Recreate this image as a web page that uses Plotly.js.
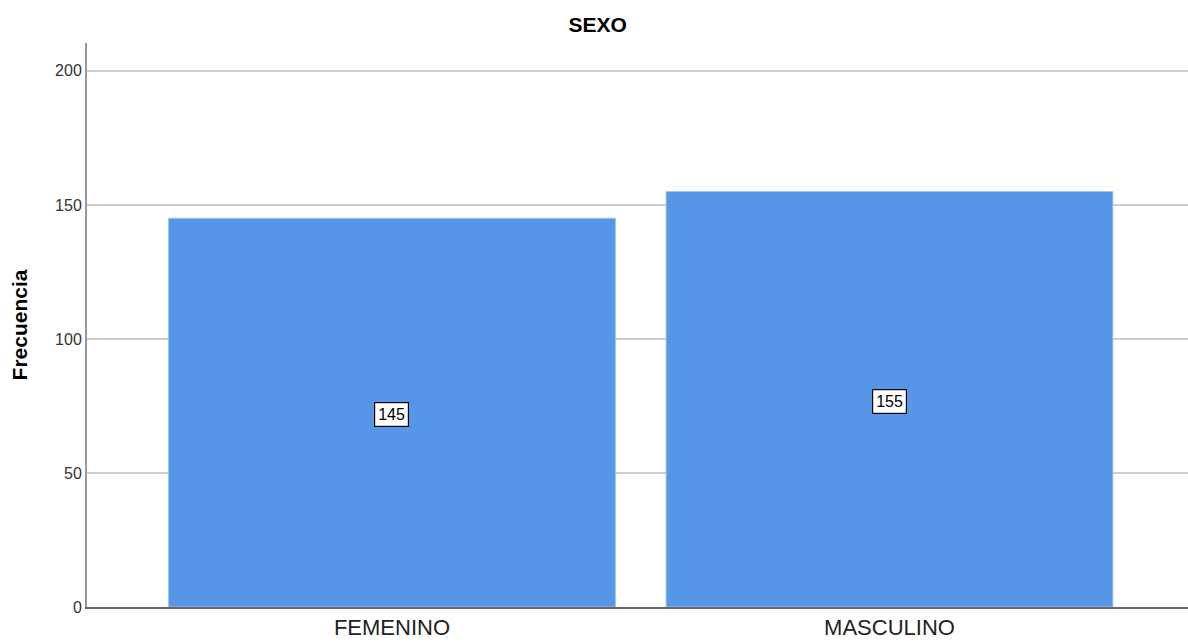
<!DOCTYPE html>
<html><head><meta charset="utf-8">
<script src="https://cdn.plot.ly/plotly-3.0.1.min.js"></script>
<style>html,body{margin:0;padding:0;background:#fff}#c{width:1188px;height:642px}</style>
</head><body><div id="c"></div>
<script>
const categories = ["FEMENINO", "MASCULINO"];
const counts = [145, 155];
const yTicks = [0, 50, 100, 150, 200];

const FONT = "Liberation Sans, Arial, sans-serif";
const trace = {
  type: "bar", x: categories, y: counts, width: 0.898,
  marker: {color: "#5596E6", line: {color: "#9CC3F2", width: 1}},
  hoverinfo: "x+y"
};
const annotations = categories.map((c, i) => ({
  x: c, y: counts[i] / 2, text: String(counts[i]), showarrow: false,
  bgcolor: "#ffffff", bordercolor: "#000000", borderwidth: 1.2, borderpad: 3,
  yshift: -2,
  font: {family: FONT, size: 16, color: "#000"}
}));
const layout = {
  width: 1188, height: 642,
  margin: {l: 87, r: 0, t: 43, b: 35},
  paper_bgcolor: "#fff", plot_bgcolor: "#fff",
  title: {text: "<b>SEXO</b>", x: 0.503, xanchor: "center", y: 0.962, yanchor: "middle",
          font: {family: FONT, size: 21, color: "#000"}},
  xaxis: {type: "category", range: [-0.613, 1.6], showgrid: false, showline: true,
          linecolor: "#666", linewidth: 1.5, ticks: "", zeroline: false,
          tickfont: {family: FONT, size: 22, color: "#222"}},
  yaxis: {range: [0, 210.4], tickvals: yTicks, showgrid: true, gridcolor: "#cfcfcf", gridwidth: 1.5,
          showline: true, linecolor: "#999", linewidth: 2, ticks: "", zeroline: false,
          tickfont: {family: FONT, size: 16, color: "#333"},
          title: {text: "<b>Frecuencia</b>", standoff: 22,
                  font: {family: FONT, size: 21, color: "#000"}}},
  annotations: annotations,
  showlegend: false
};
Plotly.newPlot("c", [trace], layout, {displayModeBar: false, staticPlot: true});
</script></body></html>
